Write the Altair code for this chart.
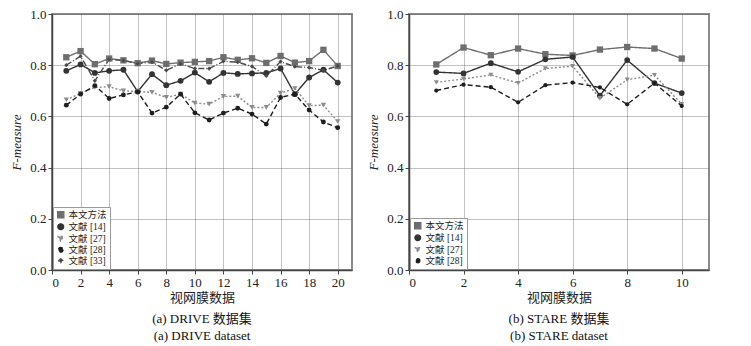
import altair as alt
import pandas as pd

series_names = ["本文方法", "文献 [14]", "文献 [27]", "文献 [28]", "文献 [33]"]

drive_x = list(range(1, 21))
drive_ours = [0.831, 0.855, 0.804, 0.826, 0.819, 0.808, 0.818, 0.805, 0.810, 0.813,
              0.816, 0.831, 0.821, 0.827, 0.809, 0.836, 0.810, 0.816, 0.860, 0.797]
drive_14 = [0.778, 0.803, 0.770, 0.778, 0.782, 0.697, 0.765, 0.722, 0.739, 0.771,
            0.735, 0.770, 0.766, 0.768, 0.770, 0.787, 0.687, 0.752, 0.782, 0.732]
drive_27 = [0.665, 0.690, 0.713, 0.716, 0.700, 0.697, 0.694, 0.674, 0.687, 0.652,
            0.648, 0.678, 0.679, 0.635, 0.635, 0.691, 0.709, 0.642, 0.644, 0.580]
drive_28 = [0.644, 0.687, 0.720, 0.670, 0.684, 0.696, 0.613, 0.636, 0.687, 0.614,
            0.586, 0.613, 0.632, 0.609, 0.570, 0.674, 0.687, 0.625, 0.578, 0.556]
drive_33 = [0.800, 0.835, 0.739, 0.823, 0.818, 0.806, 0.812, 0.780, 0.805, 0.787,
            0.787, 0.815, 0.812, 0.795, 0.758, 0.814, 0.794, 0.791, 0.780, 0.797]

stare_x = list(range(1, 11))
stare_ours = [0.803, 0.869, 0.839, 0.865, 0.843, 0.838, 0.861, 0.871, 0.865, 0.826]
stare_14 = [0.773, 0.768, 0.808, 0.774, 0.823, 0.832, 0.681, 0.820, 0.730, 0.691]
stare_27 = [0.733, 0.746, 0.762, 0.730, 0.787, 0.796, 0.671, 0.743, 0.761, 0.648]
stare_28 = [0.701, 0.724, 0.714, 0.655, 0.722, 0.732, 0.713, 0.647, 0.730, 0.641]

drive_ticks = [0, 2, 4, 6, 8, 10, 12, 14, 16, 18, 20]
stare_ticks = [0, 2, 4, 6, 8, 10]
y_ticks = [0.0, 0.2, 0.4, 0.6, 0.8, 1.0]

colors = ["#6e6e6e", "#333333", "#8c8c8c", "#1e1e1e", "#4a4a4a"]
dashes = [[1, 0], [1, 0], [2, 2], [5, 3], [6, 2, 1, 2]]
shapes = ["square", "circle", "triangle-down", "circle", "diamond"]
sizes = [40, 18, 32, 38, 14]

FONT = "Liberation Serif, Noto Sans CJK SC"


def make_df(xs, cols, names):
    rows = []
    for name, vals in zip(names, cols):
        for xv, yv in zip(xs, vals):
            rows.append({"x": xv, "y": yv, "series": name})
    return pd.DataFrame(rows)


def panel(df, names, xmax, ticks, title_lines):
    n = len(names)
    sc_color = alt.Scale(domain=names, range=colors[:n])
    sc_dash = alt.Scale(domain=names, range=dashes[:n])
    sc_shape = alt.Scale(domain=names, range=shapes[:n])
    sc_size = alt.Scale(domain=names, range=sizes[:n])
    leg = alt.Legend(
        title=None, orient="bottom-left", offset=1, padding=3,
        strokeColor="#9a9a9a", fillColor="white",
        labelFont=FONT, labelFontSize=9.5, labelColor="#222",
        rowPadding=0, symbolStrokeWidth=1.2, symbolOffset=0, symbolSize=30,
        labelOffset=3,
    )
    x_enc = alt.X("x:Q", scale=alt.Scale(domain=[0, xmax], nice=False, zero=True),
                  axis=alt.Axis(values=ticks, title="视网膜数据", format="d"))
    y_enc = alt.Y("y:Q", scale=alt.Scale(domain=[0, 1], nice=False),
                  axis=alt.Axis(values=y_ticks, format=".1f", title="F-measure",
                                titleFontStyle="italic"))
    lines = alt.Chart(df).mark_line(strokeWidth=1.4).encode(
        x=x_enc, y=y_enc,
        color=alt.Color("series:N", scale=sc_color, legend=leg, sort=names),
        strokeDash=alt.StrokeDash("series:N", scale=sc_dash, legend=leg, sort=names),
        detail="series:N",
    )
    points = alt.Chart(df).mark_point(filled=True, opacity=1).encode(
        x=x_enc, y=y_enc,
        color=alt.Color("series:N", scale=sc_color, legend=leg, sort=names),
        shape=alt.Shape("series:N", scale=sc_shape, legend=leg, sort=names),
        size=alt.Size("series:N", scale=sc_size, legend=None),
    )
    return alt.layer(lines, points).properties(
        width=300, height=256,
        title=alt.TitleParams(title_lines, orient="bottom", font=FONT, fontSize=13,
                              fontWeight="normal", color="#111", offset=9, lineHeight=17),
    )


df_drive = make_df(drive_x, [drive_ours, drive_14, drive_27, drive_28, drive_33], series_names)
df_stare = make_df(stare_x, [stare_ours, stare_14, stare_27, stare_28], series_names[:4])

left = panel(df_drive, series_names, 21, drive_ticks, ["(a) DRIVE 数据集", "(a) DRIVE dataset"])
right = panel(df_stare, series_names[:4], 11, stare_ticks, ["(b) STARE 数据集", "(b) STARE dataset"])

chart = alt.hconcat(left, right, spacing=13).resolve_scale(
    color="independent", shape="independent", strokeDash="independent", size="independent"
).properties(
    padding={"left": 9, "top": 7, "right": 5, "bottom": 0},
    background="white",
).configure_view(
    stroke="#8a8a8a", strokeWidth=2,
).configure_axis(
    labelFont=FONT, labelFontSize=13, labelColor="#222",
    titleFont=FONT, titleFontSize=13, titleFontWeight="normal", titleColor="#222",
    grid=True, gridColor="#666", gridDash=[1, 1], gridWidth=0.8,
    domainColor="#444", domainWidth=1.5, tickColor="#444", tickSize=4,
    labelPadding=2,
).configure_axisY(
    titlePadding=6,
).configure_axisX(
    titlePadding=2,
)

chart.save("out.html", embed_options={"renderer": "svg", "actions": False})
